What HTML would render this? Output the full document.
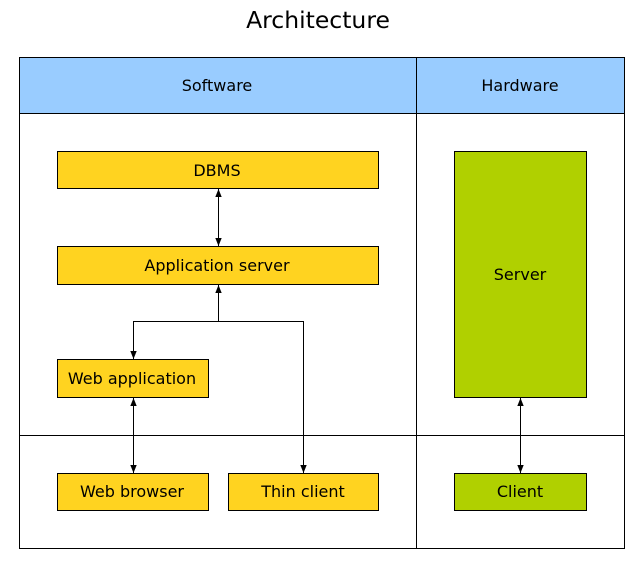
<!DOCTYPE html>
<html><head><meta charset="utf-8"><style>
html,body{margin:0;padding:0;background:#fff}
svg{display:block}
text{font-family:"DejaVu Sans","Liberation Sans",sans-serif;font-size:16px;fill:#000}
</style></head><body>
<svg width="643" height="567" viewBox="0 0 643 567" xmlns="http://www.w3.org/2000/svg">
<defs>
<marker id="a" viewBox="0 0 10 10" refX="10" refY="5" markerWidth="8" markerHeight="8" orient="auto-start-reverse">
<path d="M0,1 L10,5 L0,9 Z" fill="#000"/></marker>
</defs>
<text x="318" y="28" text-anchor="middle" style="font-size:23.5px">Architecture</text>
<rect x="19.5" y="57.5" width="605" height="56" fill="#99ccff" stroke="#000"/>
<rect x="19.5" y="57.5" width="605" height="491" fill="none" stroke="#000"/>
<line x1="416.5" y1="57" x2="416.5" y2="548" stroke="#000"/>
<line x1="19" y1="435.5" x2="624" y2="435.5" stroke="#000"/>
<text x="217" y="91" text-anchor="middle">Software</text>
<text x="520" y="91" text-anchor="middle">Hardware</text>
<g fill="#ffd320" stroke="#000">
<rect x="57.5" y="151.5" width="321" height="37"/>
<rect x="57.5" y="246.5" width="321" height="38"/>
<rect x="57.5" y="359.5" width="151" height="38"/>
<rect x="57.5" y="473.5" width="151" height="37"/>
<rect x="228.5" y="473.5" width="150" height="37"/>
</g>
<g fill="#b0d000" stroke="#000">
<rect x="454.5" y="151.5" width="132" height="246"/>
<rect x="454.5" y="473.5" width="132" height="37"/>
</g>
<text x="217" y="176" text-anchor="middle">DBMS</text>
<text x="217" y="271" text-anchor="middle">Application server</text>
<text x="132" y="384" text-anchor="middle">Web application</text>
<text x="132" y="497" text-anchor="middle">Web browser</text>
<text x="303" y="497" text-anchor="middle">Thin client</text>
<text x="520" y="280" text-anchor="middle">Server</text>
<text x="520" y="497" text-anchor="middle">Client</text>
<g stroke="#000" fill="none">
<line x1="218.5" y1="189" x2="218.5" y2="246" marker-start="url(#a)" marker-end="url(#a)"/>
<line x1="218.5" y1="321.5" x2="218.5" y2="285" marker-end="url(#a)"/>
<polyline points="133.5,359 133.5,321.5 303.5,321.5 303.5,473"/>
<line x1="133.5" y1="340" x2="133.5" y2="359" marker-end="url(#a)"/>
<line x1="303.5" y1="450" x2="303.5" y2="473" marker-end="url(#a)"/>
<line x1="133.5" y1="398" x2="133.5" y2="473" marker-start="url(#a)" marker-end="url(#a)"/>
<line x1="520.5" y1="398" x2="520.5" y2="473" marker-start="url(#a)" marker-end="url(#a)"/>
</g>
</svg>
</body></html>
